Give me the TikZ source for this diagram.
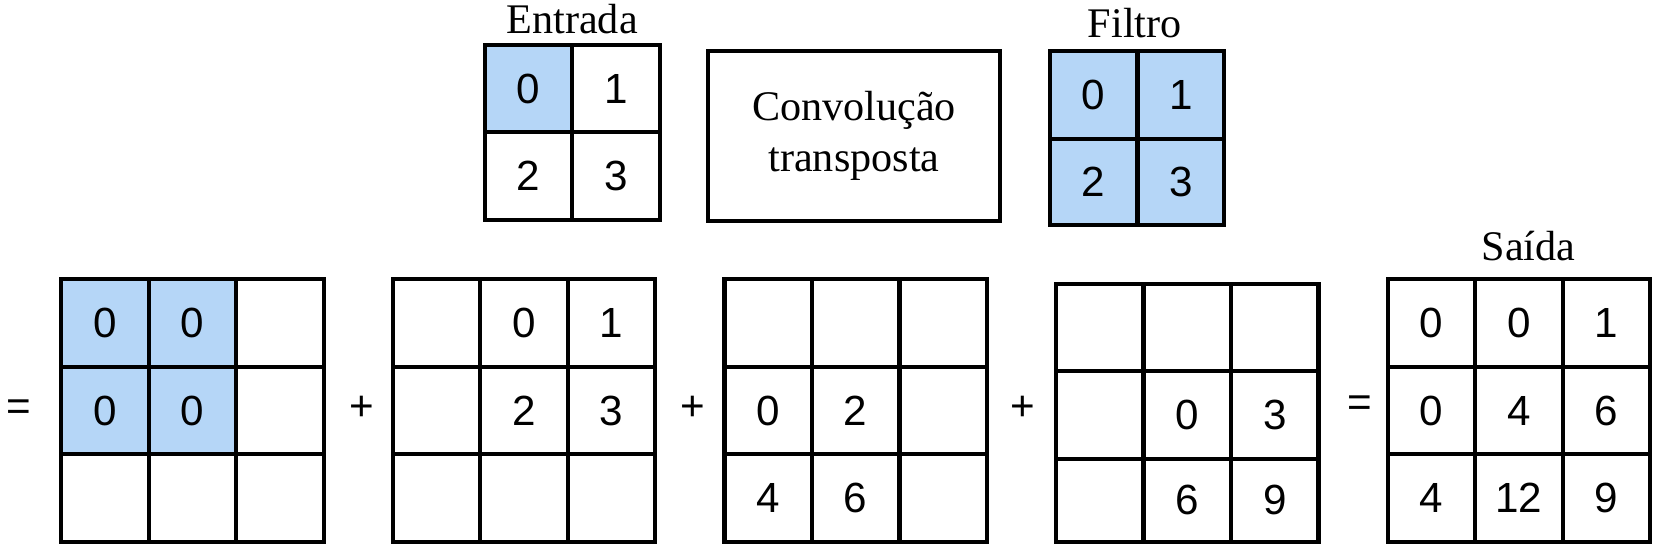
\documentclass[tikz,border=0pt]{standalone}
\usepackage{fontspec}
\setmainfont{Liberation Serif}
\newfontfamily\numfont{Liberation Sans}
\usepackage{xcolor}
\usepackage{tikz}
\definecolor{cellblue}{RGB}{181,214,247}
\tikzset{
  num/.style={font=\numfont\fontsize{12}{14}\selectfont},
  lbl/.style={font=\fontsize{12}{14.5}\selectfont},
  gridline/.style={line width=1.2pt, line cap=rect},
}

\begin{document}
\begin{tikzpicture}[x=0.875cm, y=0.875cm]
  \useasboundingbox (0,0) rectangle (18.95,6.263);
  % Entrada
  \node[lbl] (entrada) at (6.54,6.05) {Entrada};
  \fill[cellblue] (5.54,4.75) rectangle (6.54,5.75);
  \draw[gridline] (5.54,3.75) rectangle (7.54,5.75);
  \draw[gridline] (6.54,3.75) -- (6.54,5.75);
  \draw[gridline] (5.54,4.75) -- (7.54,4.75);
  \node[num] (e0) at (6.04,5.25) {0};
  \node[num] (e1) at (7.04,5.25) {1};
  \node[num] (e2) at (6.04,4.25) {2};
  \node[num] (e3) at (7.04,4.25) {3};
  % operator box
  \node[lbl, draw, gridline, minimum width=2.92cm, minimum height=1.70cm, align=center] (conv) at (9.76,4.71) {Convolução\\transposta};
  % Filtro
  \node[lbl] (filtro) at (12.97,6.0) {Filtro};
  \fill[cellblue] (12.0,3.69) rectangle (13.99,5.68);
  \draw[gridline] (12.0,3.69) rectangle (13.99,5.68);
  \draw[gridline] (13.0,3.69) -- (13.0,5.68);
  \draw[gridline] (12.0,4.67) -- (13.99,4.67);
  \node[num] (f0) at (12.5,5.18) {0};
  \node[num] (f1) at (13.5,5.18) {1};
  \node[num] (f2) at (12.5,4.18) {2};
  \node[num] (f3) at (13.5,4.18) {3};
  % sums
  \fill[cellblue] (0.70,1.07) rectangle (2.70,3.07);
  \foreach \x in {0.70,4.49,8.28,15.86} {
    \draw[gridline] (\x,0.07) rectangle ++(3,3);
    \foreach \i in {1,2} { \draw[gridline] (\x+\i,0.07) -- ++(0,3); \draw[gridline] (\x,0.07+\i) -- ++(3,0); }
  }
  \draw[gridline] (12.07,0.07) rectangle (15.07,3.02);
  \foreach \i in {1,2} { \draw[gridline] (12.07+\i,0.07) -- (12.07+\i,3.02); \draw[gridline] (12.07,0.02+\i) -- (15.07,0.02+\i); }
  \node[num] (eq1) at (0.21,1.57) {=};
  \node[num] (a0) at (1.20,2.57) {0};
  \node[num] (a1) at (2.20,2.57) {0};
  \node[num] (a2) at (1.20,1.57) {0};
  \node[num] (a3) at (2.20,1.57) {0};
  \node[num] (plus1) at (4.13,1.60) {+};
  \node[num] (b0) at (5.99,2.57) {0};
  \node[num] (b1) at (6.99,2.57) {1};
  \node[num] (b2) at (5.99,1.57) {2};
  \node[num] (b3) at (6.99,1.57) {3};
  \node[num] (plus2) at (7.92,1.60) {+};
  \node[num] (c0) at (8.78,1.57) {0};
  \node[num] (c1) at (9.78,1.57) {2};
  \node[num] (c2) at (8.78,0.57) {4};
  \node[num] (c3) at (9.78,0.57) {6};
  \node[num] (plus3) at (11.69,1.60) {+};
  \node[num] (d0) at (13.57,1.52) {0};
  \node[num] (d1) at (14.57,1.52) {3};
  \node[num] (d2) at (13.57,0.545) {6};
  \node[num] (d3) at (14.57,0.545) {9};
  \node[num] (eq2) at (15.54,1.62) {=};
  % Saida
  \node[lbl] (saida) at (17.47,3.45) {Saída};
  \node[num] (s00) at (16.36,2.57) {0};
  \node[num] (s01) at (17.36,2.57) {0};
  \node[num] (s02) at (18.36,2.57) {1};
  \node[num] (s10) at (16.36,1.57) {0};
  \node[num] (s11) at (17.36,1.57) {4};
  \node[num] (s12) at (18.36,1.57) {6};
  \node[num] (s20) at (16.36,0.57) {4};
  \node[num] (s21) at (17.36,0.57) {12};
  \node[num] (s22) at (18.36,0.57) {9};
\end{tikzpicture}
\end{document}
